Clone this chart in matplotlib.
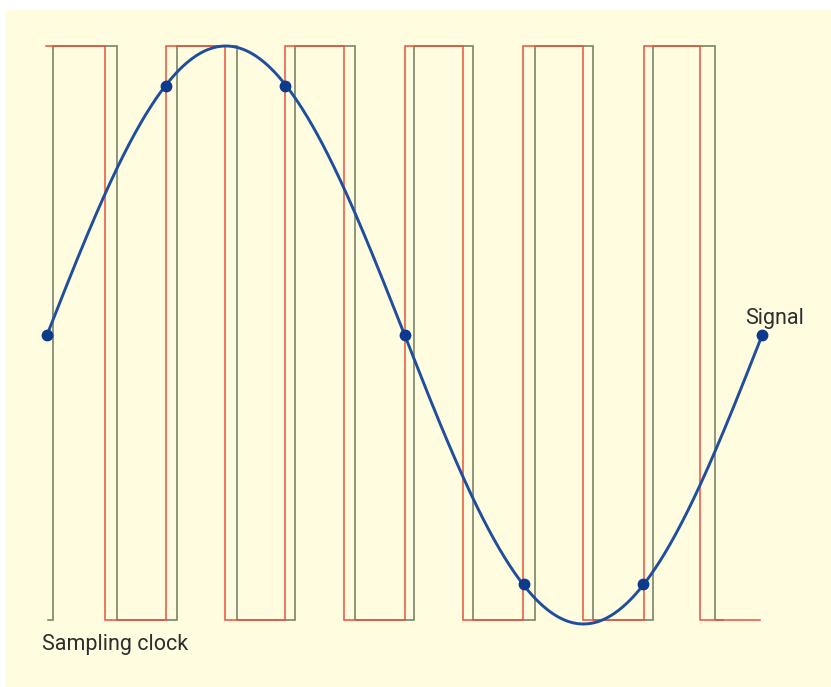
import numpy as np
import matplotlib
matplotlib.use("Agg")
import matplotlib.pyplot as plt
from matplotlib.patches import Rectangle

# ---- data (time in sampling-clock periods, amplitude normalised) ----
red_start, red_end = -0.01, 5.98
red_rise = [1.0, 2.0, 3.0, 3.99, 5.01]
red_fall = [0.49, 1.49, 2.49, 3.49, 4.5, 5.48]

green_start, green_end = 0.01, 5.67
green_rise = [0.05, 1.09, 2.08, 3.08, 4.09, 5.08]
green_fall = [0.59, 1.59, 2.58, 3.57, 4.58, 5.60]

clock_high, clock_low = 1.0, -0.985

sample_t = [0, 1, 2, 3, 4, 5, 6]
sample_v = [0.0, 0.86, 0.86, 0.0, -0.86, -0.86, 0.0]
signal_cycles = 1.0
signal_span = 6.0

labels = {"signal": "Signal", "clock": "Sampling clock"}

# ---- helpers ----
def square_wave(start, end, rises, falls, start_high):
    edges = sorted([(t, 1) for t in rises] + [(t, 0) for t in falls])
    lvl = clock_high if start_high else clock_low
    xs, ys = [start], [lvl]
    for t, up in edges:
        new = clock_high if up else clock_low
        xs += [t, t]
        ys += [lvl, new]
        lvl = new
    xs.append(end)
    ys.append(lvl)
    return xs, ys

W, H, DPI = 831, 687, 100
fig = plt.figure(figsize=(W / DPI, H / DPI), dpi=DPI, facecolor="white")

ax = fig.add_axes([0, 0, 1, 1])
ax.set_facecolor("none")
ax.add_patch(Rectangle((6 / W, 0), 1 - 6 / W, 1 - 10 / H,
                       transform=ax.transAxes, facecolor="#fffce0",
                       edgecolor="none", zorder=0))
px_per_t = 119.2
x0_px = 47
y0_px = 335
px_per_v = 289
ax.set_xlim(-x0_px / px_per_t, (W - x0_px) / px_per_t)
ax.set_ylim((y0_px - H) / px_per_v, y0_px / px_per_v)
ax.axis("off")

gx, gy = square_wave(green_start, green_end, green_rise, green_fall, False)
ax.plot(gx, gy, color="#6f7a5e", lw=1.1, zorder=2, solid_joinstyle="miter")
rx, ry = square_wave(red_start, red_end, red_rise, red_fall, True)
ax.plot(rx, ry, color="#e9513a", lw=1.1, zorder=3, solid_joinstyle="miter")

t = np.linspace(0, signal_span, 600)
v = np.sin(2 * np.pi * signal_cycles * t / signal_span)
ax.plot(t, v, color="#1f4f9c", lw=2.1, zorder=4, solid_capstyle="round")
ax.plot(sample_t, sample_v, "o", color="#0c3a8c", ms=7.5, zorder=5)

fam = ["Roboto", "DejaVu Sans"]
ax.text(5.855, 0.058, labels["signal"], fontsize=15.5, color="#2e2e2e",
        family=fam, ha="left", va="center")
ax.text(-0.04, -1.07, labels["clock"], fontsize=15.5, color="#2e2e2e",
        family=fam, ha="left", va="center")

fig.savefig("out.png", dpi=DPI, facecolor="white")
